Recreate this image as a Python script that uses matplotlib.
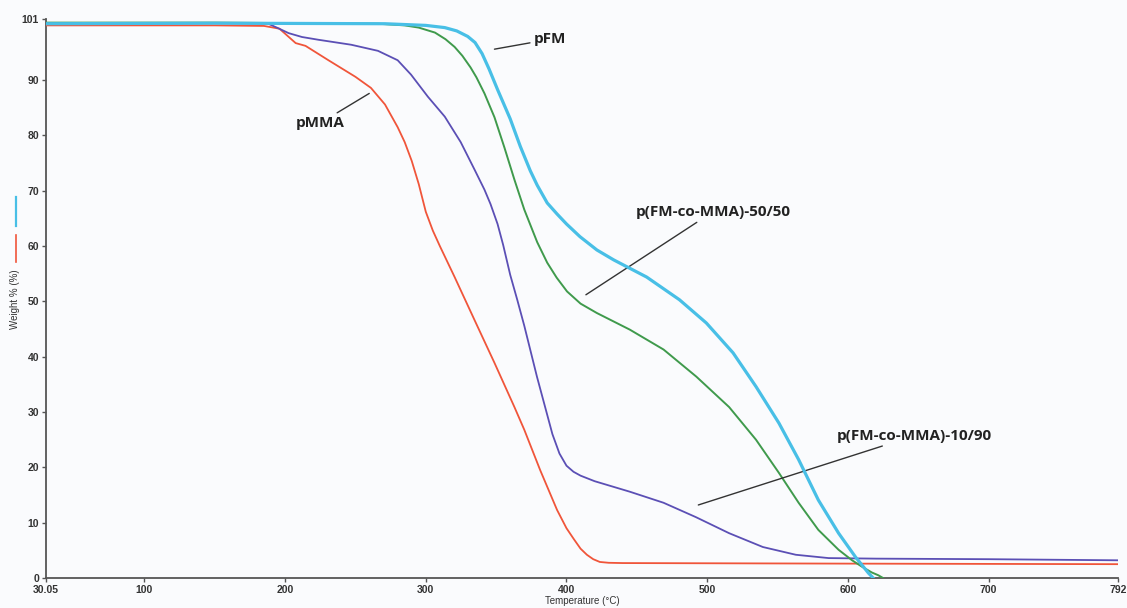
import matplotlib
matplotlib.use("Agg")
import matplotlib.pyplot as plt
from matplotlib.lines import Line2D

# ---- data (Temperature in °C, Weight %) ----
pfm_T = [30.05, 150, 271, 300, 313.5, 322, 329.8, 335, 340, 345, 351, 360, 367.2, 374.3, 379.2,
         386.3, 393.3, 400, 409.6, 421.6, 433.6, 457, 480.3, 499.4, 518.4, 534.7, 551, 565,
         579, 593.4, 605.4, 614.6, 618]
pfm_W = [100.2, 100.3, 100.2, 99.9, 99.5, 98.9, 97.9, 96.8, 94.8, 92.0, 88.3, 83.0, 78.0, 73.6,
         71.0, 67.8, 65.8, 64.0, 61.7, 59.3, 57.5, 54.4, 50.3, 46.1, 40.7, 34.6, 28.0, 21.4,
         14.1, 8.1, 3.8, 0.9, 0.0]

co50_T = [30.05, 150, 266, 285, 295, 306.5, 314, 320.5, 326, 331.8, 336, 341.7, 348.8, 355.9,
          363, 370, 379.2, 386.3, 393, 400.4, 410, 421.6, 445, 469, 492.3, 515.6, 534.7, 551,
          565, 579, 593.4, 603, 610.3, 617, 621.6, 625]
co50_W = [100.4, 100.4, 100.2, 99.9, 99.5, 98.6, 97.4, 96.0, 94.4, 92.3, 90.5, 87.6, 83.3, 77.8,
          72.0, 66.6, 60.7, 57.0, 54.3, 51.8, 49.6, 47.9, 44.9, 41.3, 36.4, 30.9, 25.0, 19.0,
          13.6, 8.7, 5.1, 3.2, 2.0, 1.0, 0.5, 0.0]

co10_T = [30.05, 150, 188, 195, 202.5, 212, 223.7, 247, 266, 280, 289.5, 301.5, 313.5, 324.8,
          334.7, 341.7, 346, 351, 355, 360, 365, 370, 379, 386.3, 390, 395, 400, 405, 410, 420,
          445, 469, 492, 515.6, 539.6, 563, 586.3, 620, 700, 792]
co10_W = [100.2, 100.3, 100.2, 99.4, 98.5, 97.8, 97.3, 96.4, 95.3, 93.6, 91.0, 87.0, 83.4, 78.8,
          73.8, 70.2, 67.6, 64.0, 60.2, 54.8, 50.3, 45.6, 36.4, 29.5, 26.0, 22.5, 20.3, 19.2,
          18.5, 17.5, 15.6, 13.6, 11.0, 8.1, 5.6, 4.2, 3.6, 3.5, 3.4, 3.2]

pmma_T = [30.05, 150, 185, 196, 207.5, 214.5, 230.8, 250, 261, 271, 280, 285, 290, 295, 300,
          305, 310, 320.5, 334.7, 348.8, 363, 370, 381.3, 393.3, 400, 405.3, 410, 414.5, 419,
          423.7, 430, 440, 600, 792]
pmma_W = [99.9, 99.9, 99.8, 99.3, 96.7, 96.2, 93.6, 90.6, 88.6, 85.6, 81.5, 78.8, 75.4, 71.2, 66.2,
          62.8, 60.0, 54.4, 46.6, 38.9, 30.9, 26.8, 19.5, 12.3, 9.0, 7.0, 5.3, 4.2, 3.4,
          2.9, 2.75, 2.7, 2.6, 2.5]

x_ticks = [30.05, 100, 200, 300, 400, 500, 600, 700, 792]
x_tick_labels = ["30.05", "100", "200", "300", "400", "500", "600", "700", "792"]
y_ticks = [0, 10, 20, 30, 40, 50, 60, 70, 80, 90, 101]
y_tick_labels = ["0", "10", "20", "30", "40", "50", "60", "70", "80", "90", "101"]

c_pfm = "#48bfe6"
c_co50 = "#3f9a4c"
c_co10 = "#5b4fb5"
c_pmma = "#f0553a"
bg = "#fafbfd"

W, H = 1127, 608
fig = plt.figure(figsize=(W / 100, H / 100), dpi=100, facecolor=bg)
x0, x1, y0, y1 = 46, 1118, 578, 19.3
ax = fig.add_axes([x0 / W, 1 - y0 / H, (x1 - x0) / W, (y0 - y1) / H])
ax.set_facecolor(bg)

ax.plot(pmma_T, pmma_W, color=c_pmma, lw=1.3, zorder=3, solid_joinstyle="round")
ax.plot(co10_T, co10_W, color=c_co10, lw=1.3, zorder=3, solid_joinstyle="round")
ax.plot(co50_T, co50_W, color=c_co50, lw=1.4, zorder=3, solid_joinstyle="round")
ax.plot(pfm_T, pfm_W, color=c_pfm, lw=2.3, zorder=4, solid_joinstyle="round")

ax.set_xlim(30.05, 792)
ax.set_ylim(0, 101)
ax.set_xticks(x_ticks)
ax.set_xticklabels(x_tick_labels)
ax.set_yticks(y_ticks)
ax.set_yticklabels(y_tick_labels)
for s in ["top", "right"]:
    ax.spines[s].set_visible(False)
for s in ["left", "bottom"]:
    ax.spines[s].set_color("#555555")
    ax.spines[s].set_linewidth(1.3)
ax.tick_params(direction="out", length=3, width=1, color="#555555",
               labelsize=7.5, labelcolor="#333333", pad=2)
for lab in ax.get_xticklabels() + ax.get_yticklabels():
    lab.set_fontfamily("Liberation Sans")
    lab.set_fontweight("bold")

ax.set_xlabel("Temperature (°C)", fontsize=7, color="#333333", family="Liberation Sans", labelpad=1)
fig.text(0.0135, 0.508, "Weight % (%)", rotation=90, fontsize=7, color="#333333",
         family="Liberation Sans", ha="center", va="center")

# small colour keys on the left
fig.add_artist(Line2D([16 / W, 16 / W], [1 - 197 / H, 1 - 226 / H], color=c_pfm, lw=1.6))
fig.add_artist(Line2D([16 / W, 16 / W], [1 - 235 / H, 1 - 262 / H], color=c_pmma, lw=1.2))

ann = dict(fontsize=11, fontweight="bold", family="Open Sans", color="#222222")
line = dict(arrowstyle="-", color="#333333", lw=1.0, shrinkA=1, shrinkB=0)
ax.annotate("pFM", xy=(348.8, 95.6), xytext=(377, 97.4), ha="left", va="center",
            arrowprops=line, **ann)
ax.annotate("pMMA", xy=(259.8, 87.6), xytext=(242, 82.2), ha="right", va="center",
            arrowprops=line, **ann)
ax.annotate("p(FM-co-MMA)-50/50", xy=(413.8, 51.2), xytext=(449, 66.2), ha="left", va="center",
            arrowprops=line, **ann)
ax.annotate("p(FM-co-MMA)-10/90", xy=(493.7, 13.2), xytext=(592, 25.7), ha="left", va="center",
            arrowprops=line, **ann)

fig.savefig("out.png", dpi=100, facecolor=bg)
